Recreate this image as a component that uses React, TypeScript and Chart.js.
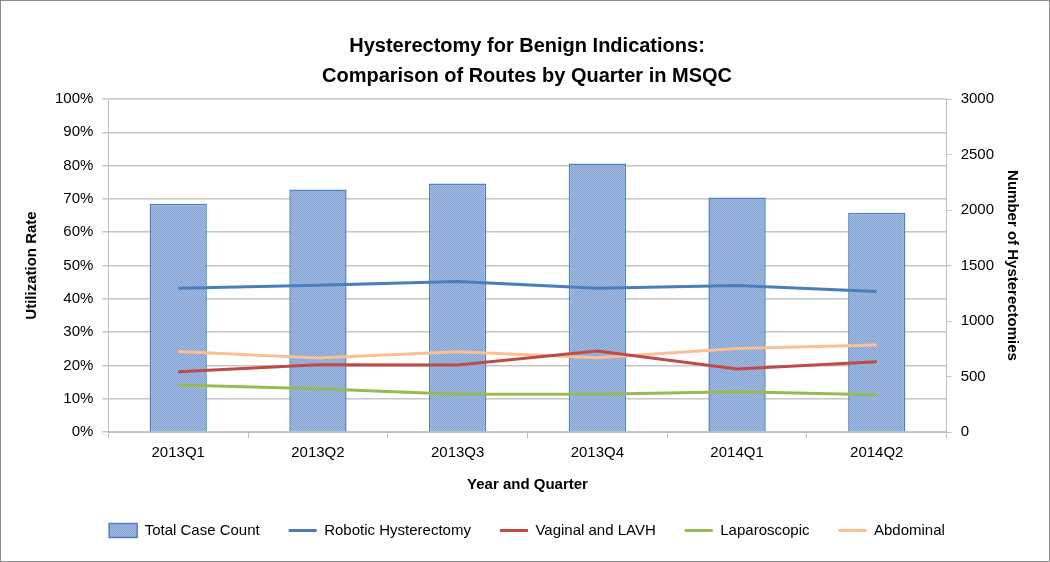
import React, { useEffect, useRef } from "react";
import { Chart, registerables } from "chart.js";

Chart.register(...registerables);

const quarters = ["2013Q1", "2013Q2", "2013Q3", "2013Q4", "2014Q1", "2014Q2"];
const totalCaseCount = [2057, 2184, 2239, 2420, 2112, 1976];
const robotic = [0.432, 0.441, 0.452, 0.432, 0.44, 0.422];
const vaginalLAVH = [0.181, 0.202, 0.201, 0.243, 0.189, 0.211];
const laparoscopic = [0.141, 0.13, 0.113, 0.113, 0.121, 0.112];
const abdominal = [0.242, 0.222, 0.241, 0.223, 0.251, 0.261];

const titleLines = ["Hysterectomy for Benign Indications:", "Comparison of Routes by Quarter in MSQC"];

const FONT = "'Liberation Sans', Arial, sans-serif";

function makePattern(): CanvasPattern | string {
  const c = document.createElement("canvas");
  c.width = 2;
  c.height = 2;
  const g = c.getContext("2d");
  if (!g) return "#93B1DB";
  g.fillStyle = "#A2BCE2";
  g.fillRect(0, 0, 2, 2);
  g.fillStyle = "#83A2D1";
  g.fillRect(0, 0, 1, 1);
  g.fillRect(1, 1, 1, 1);
  const p = g.createPattern(c, "repeat");
  return p || "#93B1DB";
}

export default function App() {
  const ref = useRef<HTMLCanvasElement | null>(null);

  useEffect(() => {
    document.body.style.margin = "0";
    if (!ref.current) return;
    const pattern = makePattern();
    const gridColor = "#C6C6C6";
    const chart = new Chart(ref.current, {
      type: "bar",
      data: {
        labels: quarters,
        datasets: [
          {
            type: "bar",
            label: "Total Case Count",
            data: totalCaseCount,
            yAxisID: "y1",
            backgroundColor: pattern as any,
            borderColor: "#4F81BD",
            borderWidth: 1.5,
            barPercentage: 0.41,
            categoryPercentage: 1,
            order: 10,
            pointStyle: "rect",
          } as any,
          {
            type: "line",
            label: "Robotic Hysterectomy",
            data: robotic,
            yAxisID: "y",
            borderColor: "#4A7EBB",
            backgroundColor: "#4A7EBB",
            borderWidth: 3,
            pointRadius: 0,
            tension: 0,
            order: 1,
            pointStyle: "line",
          } as any,
          {
            type: "line",
            label: "Vaginal and LAVH",
            data: vaginalLAVH,
            yAxisID: "y",
            borderColor: "#BE4B48",
            backgroundColor: "#BE4B48",
            borderWidth: 3,
            pointRadius: 0,
            order: 2,
            pointStyle: "line",
          } as any,
          {
            type: "line",
            label: "Laparoscopic",
            data: laparoscopic,
            yAxisID: "y",
            borderColor: "#98B954",
            backgroundColor: "#98B954",
            borderWidth: 3,
            pointRadius: 0,
            order: 3,
            pointStyle: "line",
          } as any,
          {
            type: "line",
            label: "Abdominal",
            data: abdominal,
            yAxisID: "y",
            borderColor: "#FAC090",
            backgroundColor: "#FAC090",
            borderWidth: 3,
            pointRadius: 0,
            order: 4,
            pointStyle: "line",
          } as any,
        ],
      },
      options: {
        animation: false,
        responsive: false,
        maintainAspectRatio: false,
        layout: { padding: { left: 22, right: 18, top: 30, bottom: 13 } },
        plugins: {
          tooltip: { enabled: false },
          title: {
            display: true,
            text: titleLines,
            color: "#000",
            font: { family: FONT, size: 20, weight: "bold", lineHeight: 1.5 },
            padding: { top: 0, bottom: 8 },
          },
          legend: {
            position: "bottom",
            labels: {
              usePointStyle: true,
              pointStyleWidth: 28,
              boxHeight: 14,
              color: "#000",
              font: { family: FONT, size: 15 },
              padding: 29,
              sort: (a: any, b: any) => a.datasetIndex - b.datasetIndex,
            },
          },
        },
        scales: {
          x: {
            offset: true,
            grid: {
              display: true,
              offset: true,
              drawOnChartArea: false,
              tickLength: 6,
              color: "#BFBFBF",
            },
            border: { display: true, color: "#BFBFBF", width: 1 },
            ticks: { color: "#000", font: { family: FONT, size: 15 }, padding: 6 },
            title: {
              display: true,
              text: "Year and Quarter",
              color: "#000",
              font: { family: FONT, size: 15, weight: "bold" },
              padding: { top: 8, bottom: 0 },
            },
          },
          y: {
            position: "left",
            min: 0,
            max: 1,
            grid: { color: gridColor, lineWidth: 1.5, tickLength: 6 },
            border: { display: true, color: "#BFBFBF", width: 1 },
            ticks: {
              stepSize: 0.1,
              color: "#000",
              font: { family: FONT, size: 15 },
              padding: 9,
              callback: (v: any) => Math.round(Number(v) * 100) + "%",
            },
            title: {
              display: true,
              text: "Utilization Rate",
              color: "#000",
              font: { family: FONT, size: 15, weight: "bold" },
              padding: { top: 0, bottom: 5 },
            },
          },
          y1: {
            position: "right",
            min: 0,
            max: 3000,
            grid: { drawOnChartArea: false, tickLength: 5, color: "#BFBFBF" },
            border: { display: true, color: "#BFBFBF", width: 1 },
            ticks: {
              stepSize: 500,
              color: "#000",
              font: { family: FONT, size: 15 },
              padding: 9,
              callback: (v: any) => String(v),
            },
            title: {
              display: true,
              text: "Number of Hysterectomies",
              color: "#000",
              font: { family: FONT, size: 15, weight: "bold" },
              padding: { top: 10, bottom: 0 },
            },
          },
        },
      } as any,
    });
    return () => chart.destroy();
  }, []);

  return (
    <div
      style={{
        position: "absolute",
        left: 0,
        top: 0,
        width: 1050,
        height: 562,
        boxSizing: "border-box",
        border: "1px solid #8C8C8C",
        background: "#fff",
      }}
    >
      <canvas ref={ref} width={1048} height={560} style={{ display: "block" }} />
    </div>
  );
}
